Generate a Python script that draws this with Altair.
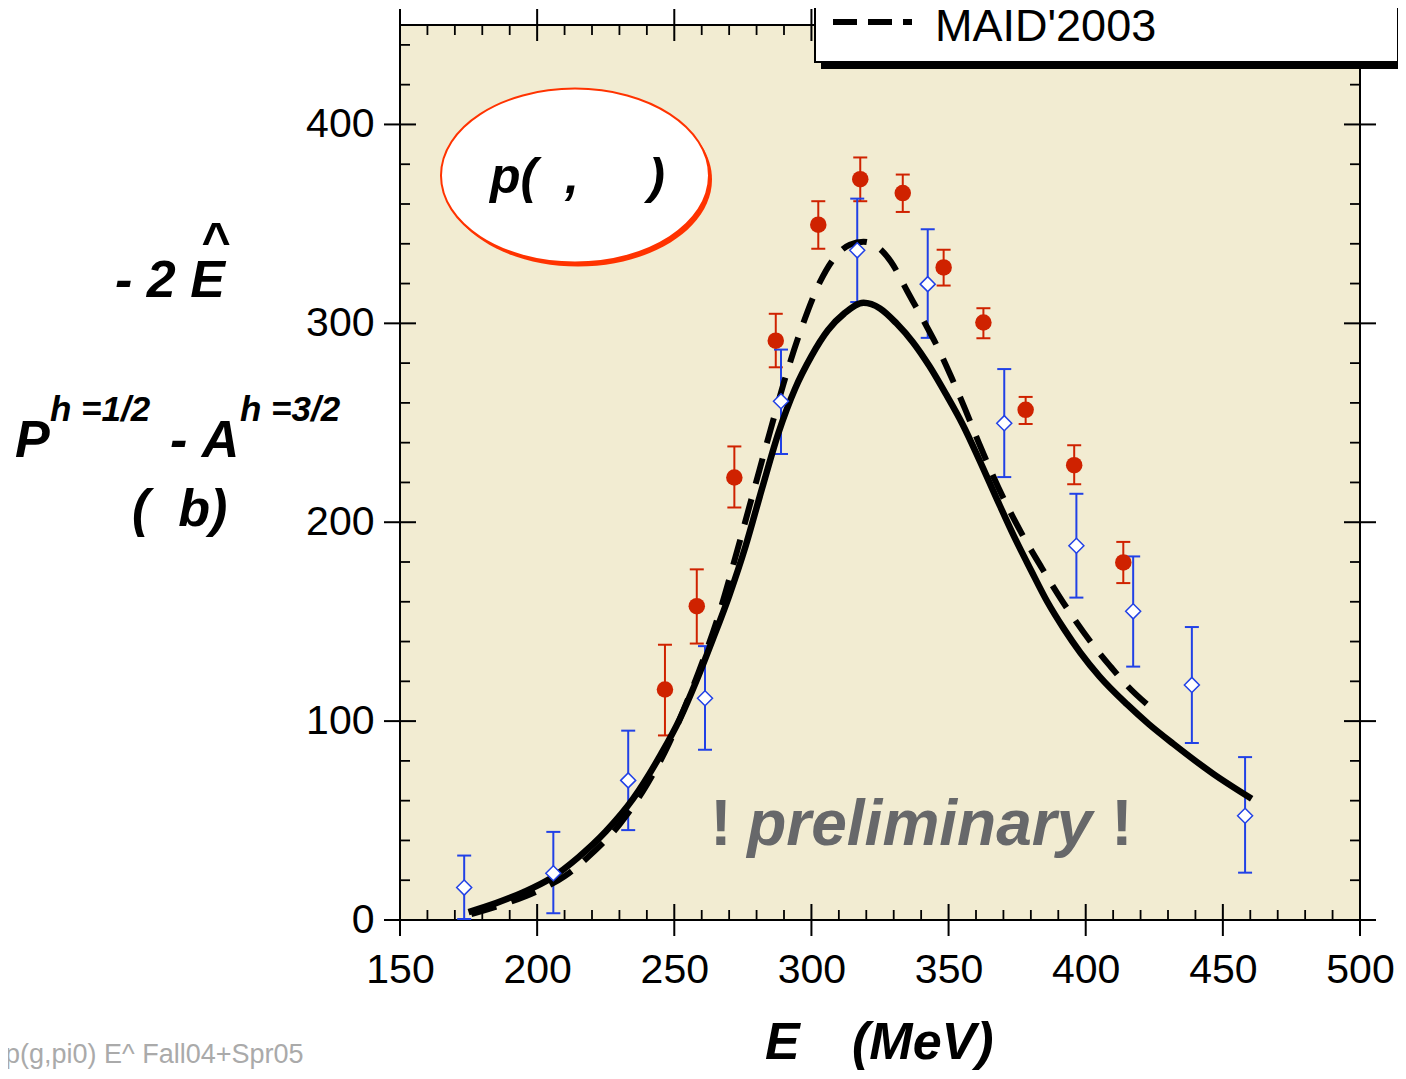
import altair as alt
import pandas as pd

# ---------------- data ----------------
red_x = [246.6, 258.2, 271.9, 287.0, 302.5, 317.8, 333.3, 348.2, 362.7, 378.1, 395.8, 413.7]
red_y = [115.9, 157.8, 222.5, 291.3, 349.6, 372.5, 365.5, 328.1, 300.4, 256.5, 228.7, 179.8]
red_lo = [92.8, 139.0, 207.4, 277.9, 337.5, 361.4, 356.0, 319.0, 292.5, 249.4, 219.1, 169.4]
red_hi = [138.4, 176.3, 238.1, 304.8, 361.4, 383.4, 374.8, 337.0, 307.6, 263.0, 238.7, 190.1]

blue_x = [173.4, 205.9, 233.2, 261.2, 288.9, 316.7, 342.4, 370.3, 396.6, 417.3, 438.7, 458.1]
blue_y = [16.3, 23.5, 70.2, 111.5, 260.8, 336.7, 319.7, 249.8, 188.2, 155.2, 118.2, 52.4]
blue_lo = [0.5, 3.4, 45.2, 85.6, 234.3, 310.7, 292.7, 222.7, 162.1, 127.4, 89.0, 23.8]
blue_hi = [32.4, 44.3, 95.2, 137.7, 286.8, 362.7, 347.3, 277.0, 214.3, 182.8, 147.3, 81.9]

solid_x = [175, 185, 195, 205, 215, 225, 235, 245, 252, 258, 264, 270, 276, 282, 288, 294,
           300, 306, 312, 319, 325, 331, 337, 343, 349, 355, 361, 367.5, 374, 380, 386, 392,
           398, 405, 415, 423, 432, 446.5, 460.5]
solid_y = [4, 8.5, 14, 21, 31.5, 44.5, 61, 83, 101, 120, 141, 163, 188, 217, 245, 267,
           283.5, 296.5, 305, 310.3, 307.5, 300, 290.5, 278.5, 264.5, 249.5, 232, 212, 192.5,
           176, 160, 146.5, 134.5, 122.5, 108.5, 98.5, 88.5, 73.5, 61]

maid_x = [176, 190, 200, 210, 220, 230, 240, 248, 255, 261, 267, 273, 279, 285, 291, 297,
          303, 309, 314, 319, 324, 329, 335, 341, 346, 351, 356, 361, 366, 372, 378, 384,
          390, 396, 402, 409, 415, 424]
maid_y = [3, 9, 14.5, 22, 33.5, 48, 68, 88.5, 111, 132.5, 157, 186, 216, 246, 275, 300,
          320.5, 334, 339.5, 341, 338.5, 331, 316, 301, 288, 273, 257, 240, 224, 206.5, 191,
          177, 163.5, 151, 139.5, 127.5, 118, 106.5]

x_major = [150, 200, 250, 300, 350, 400, 450, 500]
x_minor = [v for v in range(160, 500, 10) if v % 50]
y_major = [0, 100, 200, 300, 400]
y_minor = [v for v in range(20, 450, 20) if v % 100]

# ---------------- styling ----------------
RED = "#CF2200"
BLUE = "#2141E6"
BG = "#F2ECD2"
ORANGE = "#FF3300"
GRAY = "#67686A"
FONT = "Liberation Sans"
NB = "\u00a0"

W, H = 960, 895
xs = alt.Scale(domain=[150, 500], nice=False, zero=False)
ys = alt.Scale(domain=[0, 450], nice=False, zero=False)
AX = alt.Axis(values=x_major, ticks=False, tickSize=0, domain=False, grid=False,
              labelFontSize=41, labelFont=FONT, labelColor="black", labelPadding=62,
              labelBaseline="alphabetic", labelFlush=False, labelOverlap=False, title=None)
AY = alt.Axis(values=y_major, ticks=False, tickSize=0, domain=False, grid=False,
              labelFontSize=41, labelFont=FONT, labelColor="black", labelPadding=26,
              labelFlush=False, labelOverlap=False, title=None)


def X(f):
    return alt.X(f, type="quantitative", scale=xs, axis=AX)


def Y(f):
    return alt.Y(f, type="quantitative", scale=ys, axis=AY)


red_df = pd.DataFrame({"x": red_x, "y": red_y, "lo": red_lo, "hi": red_hi})
blue_df = pd.DataFrame({"x": blue_x, "y": blue_y, "lo": blue_lo, "hi": blue_hi})
solid_df = pd.DataFrame({"x": solid_x, "y": solid_y})
maid_df = pd.DataFrame({"x": maid_x, "y": maid_y})
one = pd.DataFrame({"k": [0]})

layers = []

# ticks (major cross the frame, minor inside)
xmaj = alt.Chart(pd.DataFrame({"v": x_major})).mark_rule(color="black", strokeWidth=2)
xmin = alt.Chart(pd.DataFrame({"v": x_minor})).mark_rule(color="black", strokeWidth=1.8)
ymaj = alt.Chart(pd.DataFrame({"v": y_major})).mark_rule(color="black", strokeWidth=2)
ymin = alt.Chart(pd.DataFrame({"v": y_minor})).mark_rule(color="black", strokeWidth=1.8)
layers += [
    xmaj.encode(x=X("v"), y=alt.value(H - 16), y2=alt.value(H + 16)),
    xmaj.encode(x=X("v"), y=alt.value(-16), y2=alt.value(16)),
    xmin.encode(x=X("v"), y=alt.value(H - 10), y2=alt.value(H)),
    xmin.encode(x=X("v"), y=alt.value(0), y2=alt.value(10)),
    ymaj.encode(y=Y("v"), x=alt.value(-16), x2=alt.value(16)),
    ymaj.encode(y=Y("v"), x=alt.value(W - 16), x2=alt.value(W + 16)),
    ymin.encode(y=Y("v"), x=alt.value(0), x2=alt.value(10)),
    ymin.encode(y=Y("v"), x=alt.value(W - 10), x2=alt.value(W)),
]

# error bars
for df, col in ((red_df, RED), (blue_df, BLUE)):
    layers.append(alt.Chart(df).mark_rule(color=col, strokeWidth=2).encode(
        x=X("x"), y=Y("lo"), y2=alt.Y2("hi")))
    for f in ("lo", "hi"):
        layers.append(alt.Chart(df).mark_tick(orient="horizontal", color=col, size=14,
                                              thickness=2, opacity=1).encode(x=X("x"), y=Y(f)))

# curves
layers.append(alt.Chart(maid_df).mark_line(color="black", strokeWidth=6, strokeDash=[26, 16],
                                           interpolate="monotone").encode(x=X("x"), y=Y("y")))
layers.append(alt.Chart(solid_df).mark_line(color="black", strokeWidth=6.5,
                                            interpolate="monotone").encode(x=X("x"), y=Y("y")))

# points
layers.append(alt.Chart(red_df).mark_point(shape="circle", filled=True, size=272, color=RED,
                                           opacity=1).encode(x=X("x"), y=Y("y")))
layers.append(alt.Chart(blue_df).mark_point(shape="diamond", filled=True, fill="white", stroke=BLUE,
                                            strokeWidth=1.5, size=225, opacity=1).encode(x=X("x"), y=Y("y")))

# ellipse annotation (in data coordinates)
ELL = ("M 1 0 C 1 0.3585 0.5523 0.649 0 0.649 C -0.5523 0.649 -1 0.3585 -1 0 "
       "C -1 -0.3585 -0.5523 -0.649 0 -0.649 C 0.5523 -0.649 1 -0.3585 1 0 Z")
ann = pd.DataFrame({"ex": [213.8], "ey": [374.3], "tx": [182.8], "ty": [365.7]})
layers.append(alt.Chart(ann).mark_point(shape=ELL, size=71824, filled=True, fill=ORANGE,
                                        strokeWidth=0, opacity=1, xOffset=3, yOffset=4)
              .encode(x=X("ex"), y=Y("ey")))
layers.append(alt.Chart(ann).mark_point(shape=ELL, size=71824, filled=True, fill="white",
                                        stroke=ORANGE, strokeWidth=2, opacity=1)
              .encode(x=X("ex"), y=Y("ey")))
layers.append(alt.Chart(ann).mark_text(font=FONT, fontSize=50, fontWeight="bold", fontStyle="italic",
                                       align="left", baseline="alphabetic", color="black")
              .encode(x=X("tx"), y=Y("ty"), text=alt.value("p(" + NB * 2 + "," + NB * 5 + ")")))

# preliminary
pre = pd.DataFrame({"x1": [267.0], "x2": [276.6], "x3": [413.2], "y": [37.8]})
layers.append(alt.Chart(pre).mark_text(font=FONT, fontSize=64, fontWeight="bold", align="center",
                                       baseline="alphabetic", color=GRAY)
              .encode(x=X("x1"), y=Y("y"), text=alt.value("!")))
layers.append(alt.Chart(pre).mark_text(font=FONT, fontSize=64, fontWeight="bold", fontStyle="italic",
                                       align="left", baseline="alphabetic", color=GRAY)
              .encode(x=X("x2"), y=Y("y"), text=alt.value("preliminary")))
layers.append(alt.Chart(pre).mark_text(font=FONT, fontSize=64, fontWeight="bold", align="center",
                                       baseline="alphabetic", color=GRAY)
              .encode(x=X("x3"), y=Y("y"), text=alt.value("!")))

# legend box (partially above the page, as in the reference)
layers.append(alt.Chart(one).mark_rect(fill="black").encode(
    x=alt.value(421), x2=alt.value(1006), y=alt.value(-30), y2=alt.value(44)))
layers.append(alt.Chart(one).mark_rect(fill="white", stroke="black", strokeWidth=2).encode(
    x=alt.value(415), x2=alt.value(998), y=alt.value(-30), y2=alt.value(37)))
layers.append(alt.Chart(one).mark_rule(color="black", strokeWidth=6, strokeDash=[24, 11]).encode(
    x=alt.value(433), x2=alt.value(512), y=alt.value(-3)))
layers.append(alt.Chart(one).mark_text(font=FONT, fontSize=45, align="left", baseline="alphabetic",
                                       color="black")
              .encode(x=alt.value(535), y=alt.value(16), text=alt.value("MAID'2003")))


def label(txt, px, py, size, italic=True, align="left", color="black", bold=True):
    kw = dict(font=FONT, fontSize=size, align=align, baseline="alphabetic", color=color)
    if bold:
        kw["fontWeight"] = "bold"
    if italic:
        kw["fontStyle"] = "italic"
    return alt.Chart(one).mark_text(**kw).encode(
        x=alt.value(px), y=alt.value(py), text=alt.value(txt))


# y-axis title pieces
layers += [
    label("-" + NB + "2" + NB + "E", -285, 272, 52),
    label("^", -184, 233, 50, italic=False, align="center"),
    label("P", -385, 432, 52),
    label("h =1/2", -350, 396, 35),
    label("-" + NB + "A", -230, 432, 52),
    label("h =3/2", -160, 396, 35),
    label("(" + NB * 2 + "b)", -268, 501, 52),
    # x-axis title
    label("E", 365, 1034, 52),
    label("(MeV)", 452, 1034, 52),
    # footnote
    label("p(g,pi0) E^ Fall04+Spr05", -395, 1038, 27, italic=False, bold=False, color="#AAAAAA"),
]

chart = alt.layer(*layers).properties(
    width=W, height=H,
    padding={"left": 392, "top": 17, "right": 38, "bottom": 150},
    autosize=alt.AutoSizeParams(type="none"),
    background="white",
).configure_view(fill=BG, stroke="black", strokeWidth=2)

chart.save("out.html", embed_options={"renderer": "svg", "actions": False})
